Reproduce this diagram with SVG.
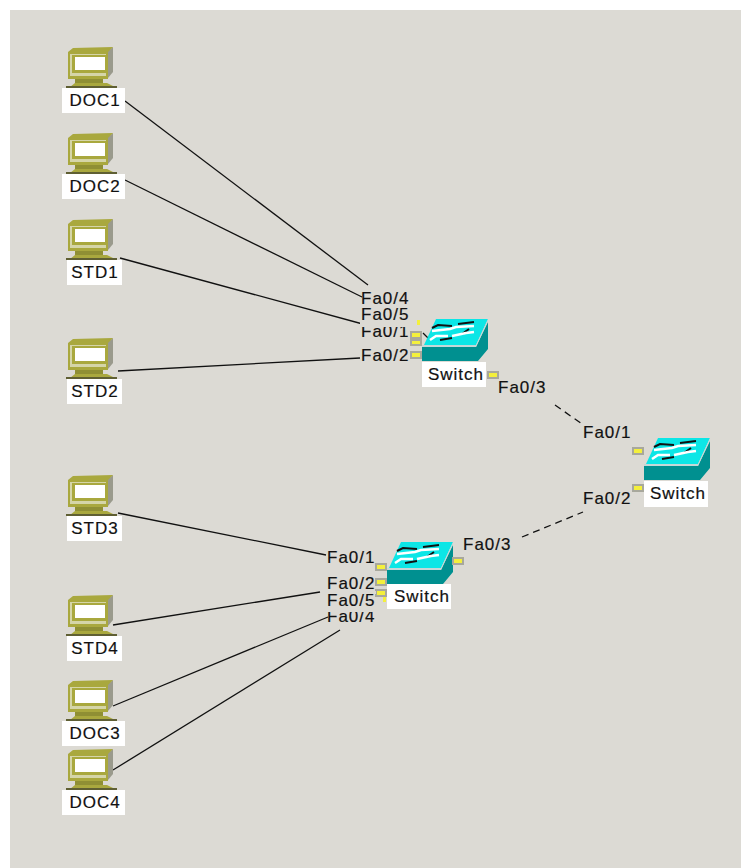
<svg xmlns="http://www.w3.org/2000/svg" width="741" height="868" viewBox="0 0 741 868">
<style>
text{font-family:"Liberation Sans",Arial,sans-serif;fill:#111;stroke:#111;stroke-width:.2}
.port{font-size:17px;letter-spacing:1px}
.name{font-size:17px;text-anchor:middle;letter-spacing:1px}
.sw{font-size:17px;text-anchor:middle;letter-spacing:1px}
.lab{fill:#fff}
.link{fill:none;stroke:#111;stroke-width:1.3}
.dash{stroke-dasharray:7 5}
.led{fill:#f4f03c;stroke:#a8a89c;stroke-width:2}
.bit{fill:#f4f03c}
.bgr{fill:#dcdad4}
</style>
<defs>
<g id="pc">
<path d="M43 3 L48 -1 L48 24 L43 30Z" fill="#9a9a8c"/>
<path d="M3 4 L8 0 L48 -1 L43 4Z" fill="#a9a83e"/>
<rect x="3" y="4" width="40" height="27" fill="#a9a83e"/>
<rect x="5" y="6" width="36" height="22" fill="#d5d5a8"/>
<rect x="7" y="7" width="35" height="18" fill="#a9a83e"/>
<rect x="10" y="9" width="30" height="13" fill="#fff"/>
<path d="M10 31 L38 31 L38 35 L10 35Z" fill="#8f8f34"/>
<path d="M5 39 L10 35 L42 35 L50 39Z" fill="#a9a83e"/>
<rect x="1" y="38" width="51" height="2" fill="#5f5f33"/>
</g>
<g id="switch">
<path d="M14 0 L66 0 L54 26 L2 26Z" fill="#0ce6e6"/>
<path d="M0 28 L54 28 L66 3 L66 30 L56 42 L0 42Z" fill="#009090"/>
<path d="M0 26 L54 26 L66 0 L66 2 L54 28 L0 28Z" fill="#c4d8d8"/>
<path d="M10 9 L16 6 L30 7 M36 5 L52 3 M18 21 L30 19 M40 15 L47 10" fill="none" stroke="#111" stroke-width="2"/>
<path d="M10 12 L28 10 L34 8 L52 7 M8 21 L14 17 L26 17 M30 17 L44 14 L52 13" fill="none" stroke="#fff" stroke-width="2.5"/>
</g>
</defs>
<rect x="0" y="0" width="741" height="868" fill="#fff"/>
<rect x="10" y="10" width="731" height="858" class="bgr"/>
<g id="connectors">
<path class="link" d="M125 101 L368 285"/>
<path class="link" d="M125 180 L362 297"/>
<path class="link" d="M120 258 L370 326"/>
<path class="link" d="M118 371 L360 358"/>
<path class="link" d="M118 513 L326 555"/>
<path class="link" d="M113 625 L320 592"/>
<path class="link" d="M113 706 L328 617"/>
<path class="link" d="M113 770 L340 630"/>
<path class="link dash" d="M555 405 L582 424"/>
<path class="link dash" d="M522 537 L583 512"/>
<path class="link" d="M423 333 L432 342"/>
</g>
<g id="doc1"><use href="#pc" x="65" y="48"/><rect class="lab" x="62" y="88" width="63" height="25"/><text class="name" x="95" y="106">DOC1</text></g>
<g id="doc2"><use href="#pc" x="65" y="134"/><rect class="lab" x="62" y="174" width="63" height="25"/><text class="name" x="95" y="192">DOC2</text></g>
<g id="std1"><use href="#pc" x="65" y="220"/><rect class="lab" x="67" y="260" width="55" height="25"/><text class="name" x="95" y="278">STD1</text></g>
<g id="std2"><use href="#pc" x="65" y="339"/><rect class="lab" x="67" y="379" width="55" height="25"/><text class="name" x="95" y="397">STD2</text></g>
<g id="std3"><use href="#pc" x="65" y="476"/><rect class="lab" x="67" y="516" width="55" height="25"/><text class="name" x="95" y="534">STD3</text></g>
<g id="std4"><use href="#pc" x="65" y="596"/><rect class="lab" x="67" y="636" width="55" height="25"/><text class="name" x="95" y="654">STD4</text></g>
<g id="doc3"><use href="#pc" x="65" y="681"/><rect class="lab" x="62" y="721" width="63" height="25"/><text class="name" x="95" y="739">DOC3</text></g>
<g id="doc4"><use href="#pc" x="65" y="750"/><rect class="lab" x="62" y="790" width="63" height="25"/><text class="name" x="95" y="808">DOC4</text></g>
<g id="switch1">
<use href="#switch" x="422" y="319"/>
<rect class="lab" x="422" y="362" width="64" height="25"/><text class="sw" x="456" y="380">Switch</text>
<rect class="led" x="411" y="332" width="10" height="6"/>
<rect class="led" x="411" y="340" width="10" height="5"/>
<rect class="led" x="411" y="352" width="10" height="6"/>
<rect class="led" x="488" y="372" width="10" height="6"/>
<rect class="bit" x="417" y="320" width="3" height="5"/>
<text class="port" x="361" y="304">Fa0/4</text>
<rect class="bgr" x="360" y="304" width="50" height="18"/>
<text class="port" x="361" y="320">Fa0/5</text>
<text class="port" x="361" y="337">Fa0/1</text>
<rect class="bgr" x="360" y="322" width="50" height="5"/>
<text class="port" x="361" y="361">Fa0/2</text>
<text class="port" x="498" y="393">Fa0/3</text>
</g>
<g id="switch2">
<use href="#switch" x="387" y="542"/>
<rect class="lab" x="387" y="584" width="64" height="25"/><text class="sw" x="422" y="602">Switch</text>
<rect class="led" x="376" y="564" width="10" height="6"/>
<rect class="led" x="376" y="579" width="10" height="6"/>
<rect class="led" x="376" y="590" width="10" height="6"/>
<rect class="led" x="453" y="558" width="10" height="6"/>
<rect class="bit" x="383" y="597" width="3" height="5"/>
<text class="port" x="327" y="563">Fa0/1</text>
<text class="port" x="327" y="589">Fa0/2</text>
<rect class="bgr" x="326" y="591" width="50" height="3"/>
<text class="port" x="327" y="622">Fa0/4</text>
<rect class="bgr" x="326" y="607" width="50" height="5"/>
<text class="port" x="327" y="606">Fa0/5</text>
<text class="port" x="463" y="550">Fa0/3</text>
</g>
<g id="switch3">
<use href="#switch" x="644" y="438"/>
<rect class="lab" x="644" y="481" width="64" height="26"/><text class="sw" x="678" y="499">Switch</text>
<rect class="led" x="633" y="448" width="10" height="6"/>
<rect class="led" x="633" y="485" width="10" height="6"/>
<text class="port" x="583" y="438">Fa0/1</text>
<text class="port" x="583" y="504">Fa0/2</text>
</g>
</svg>
